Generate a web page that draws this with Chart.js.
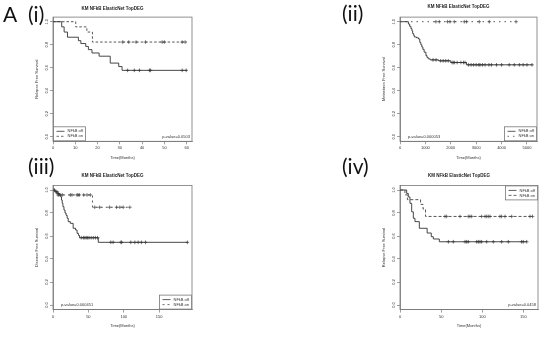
<!DOCTYPE html>
<html>
<head>
<meta charset="utf-8">
<title>KM NFkB ElasticNet TopDEG</title>
<script src="https://cdn.jsdelivr.net/npm/chart.js@4.4.1/dist/chart.umd.min.js"></script>
<style>
  body { margin: 0; background: #fff; }
  #fig { position: relative; width: 548px; height: 338px; overflow: hidden; }
  canvas { position: absolute; }
  .tag { position: absolute; z-index: 2; font-family: Lato, 'Open Sans', sans-serif; font-size: 21px; line-height: 20px; color: #111; }
</style>
</head>
<body>
<div id="fig">
  <canvas id="km1" width="274" height="169" style="left:0;top:0"></canvas>
  <canvas id="km2" width="274" height="169" style="left:274px;top:0"></canvas>
  <canvas id="km3" width="274" height="169" style="left:0;top:169px"></canvas>
  <canvas id="km4" width="274" height="169" style="left:274px;top:169px"></canvas>
  <div class="tag" style="left:3px;top:4px">A</div>
  <div class="tag" style="left:28px;top:4px">(i)</div>
  <div class="tag" style="left:342px;top:3px">(ii)</div>
  <div class="tag" style="left:28px;top:156px">(iii)</div>
  <div class="tag" style="left:342px;top:156px">(iv)</div>
</div>
<script>
// 生存曲線データ
const yTicks = [0, 0.2, 0.4, 0.6, 0.8, 1.0];

// (i) Relapse Free Survival
const p1XTicks = [0, 10, 20, 30, 40, 50, 60];
const p1OffTime = [0, 3.9, 5.0, 6.5, 11.4, 12.5, 14.7, 15.9, 17.5, 20.7, 25.7, 29.5, 31, 60];
const p1OffSurv = [1, 0.955, 0.91, 0.865, 0.835, 0.81, 0.785, 0.757, 0.728, 0.70, 0.64, 0.61, 0.577, 0.577];
const p1OffCens = [33.5, 36.5, 38.8, 43.3, 43.8, 58, 59.8];
const p1OnTime = [0, 10.2, 15.2, 17.7, 60];
const p1OnSurv = [1, 0.955, 0.91, 0.823, 0.823];
const p1OnCens = [31.3, 34, 37.3, 41.5, 49, 50, 58, 59.3];

// (ii) Metastasis Free Survival
const p2XTicks = [0, 1000, 2000, 3000, 4000, 5000];
const p2OffTime = [0, 330, 380, 430, 470, 500, 540, 565, 650, 730, 780, 820, 860, 900, 950, 1020, 1060, 1110, 1190, 1520, 2000, 2620, 5200];
const p2OffSurv = [1, 0.98, 0.96, 0.94, 0.92, 0.896, 0.88, 0.867, 0.86, 0.85, 0.82, 0.80, 0.78, 0.76, 0.735, 0.706, 0.69, 0.677, 0.668, 0.66, 0.645, 0.625, 0.625];
const p2OffCens = [1300, 1420, 1600, 1700, 1800, 1900, 2050, 2100, 2150, 2250, 2400, 2500, 2560, 2700, 2800, 2900, 3000, 3100, 3150, 3250, 3350, 3500, 3600, 3800, 4000, 4300, 4500, 4700, 4850, 5000, 5200];
const p2OnTime = [0, 4570];
const p2OnSurv = [1, 1];
const p2OnCens = [1413, 1547, 1874, 1968, 2138, 2532, 2622, 3122, 3516, 4570];

// (iii) Disease Free Survival
const p3XTicks = [0, 50, 100, 150];
const p3OffTime = [0, 3, 6, 9, 11, 12, 13, 14, 15.5, 17, 18.5, 20, 21.5, 24.5, 28.5, 32, 34, 36, 37.5, 64, 190];
const p3OffSurv = [1, 0.985, 0.97, 0.957, 0.94, 0.913, 0.885, 0.855, 0.826, 0.80, 0.78, 0.755, 0.725, 0.71, 0.667, 0.652, 0.623, 0.605, 0.585, 0.545, 0.545];
const p3OffCens = [2, 4, 5.5, 7.5, 40, 43, 45, 47, 49, 51, 54, 57, 60, 63, 81.7, 85, 96, 97, 110, 115.7, 120.4, 125, 130.8, 190];
const p3OnTime = [0, 5, 55.8, 108.6];
const p3OnSurv = [1, 0.957, 0.85, 0.85];
const p3OnCens = [7.1, 8.5, 10.9, 13.2, 24.6, 26.9, 34, 35.4, 37.2, 43.4, 48.1, 52.8, 59, 66, 80, 89.8, 94.5, 99.2, 108.6];

// (iv) Relapse Free Survival
const p4XTicks = [0, 50, 100, 150];
const p4OffTime = [0, 8.1, 10.1, 12.1, 14.2, 16.2, 18.2, 23.5, 33, 38, 40.5, 47.8, 154];
const p4OffSurv = [1, 0.97, 0.94, 0.884, 0.81, 0.754, 0.725, 0.667, 0.626, 0.594, 0.574, 0.55, 0.55];
const p4OffCens = [58.8, 64.8, 79, 81, 83, 93.2, 95.2, 97.2, 99.2, 105.3, 113.4, 123.5, 131.6, 147.8, 149.8, 154];
const p4OnTime = [0, 6, 9, 25, 28, 31, 161];
const p4OnSurv = [1, 0.958, 0.916, 0.875, 0.835, 0.77, 0.77];
const p4OnCens = [54.7, 56.7, 72.9, 83, 85, 87.1, 99.2, 103.3, 105.3, 107.3, 109.4, 121.5, 123.5, 127.6, 135.7, 158, 161];

const FONT = "'Liberation Sans', Arial, sans-serif";
const textColor = '#333';
const axisColor = '#777';
const offColor = '#333';
const onColor = '#444';

function levelAt(time, surv, t) {
  let s = surv[0];
  for (let i = 0; i < time.length; i++) {
    if (time[i] <= t) s = surv[i];
  }
  return s;
}

function curve(time, surv) {
  return time.map((t, i) => ({ x: t, y: surv[i] }));
}

function marks(time, surv, cens) {
  return cens.map(t => ({ x: t, y: levelAt(time, surv, t) }));
}

// 枠・凡例・p値の描画
const kmDecor = {
  id: 'kmDecor',
  afterDraw(chart, args, opts) {
    const { ctx, chartArea: a } = chart;
    ctx.save();
    ctx.strokeStyle = axisColor;
    ctx.lineWidth = 0.8;
    ctx.strokeRect(a.left, a.top, a.right - a.left, a.bottom - a.top);

    // 凡例
    const bw = 32, bh = 14;
    const bx = opts.legend.endsWith('left') ? a.left + 0.5 : a.right - bw - 0.5;
    const by = opts.legend.startsWith('top') ? a.top + 0.5 : a.bottom - bh - 0.5;
    ctx.fillStyle = '#fff';
    ctx.fillRect(bx, by, bw, bh);
    ctx.strokeRect(bx, by, bw, bh);
    ctx.font = '4px ' + FONT;
    ctx.textBaseline = 'middle';
    ctx.textAlign = 'left';
    const rows = [['NFkB off', offColor, []], ['NFkB on', onColor, opts.dash]];
    rows.forEach((r, i) => {
      const ry = by + 4.5 + i * 5;
      ctx.strokeStyle = r[1];
      ctx.lineWidth = 0.8;
      ctx.setLineDash(r[2]);
      ctx.beginPath();
      ctx.moveTo(bx + 3, ry);
      ctx.lineTo(bx + 11, ry);
      ctx.stroke();
      ctx.setLineDash([]);
      ctx.fillStyle = textColor;
      ctx.fillText(r[0], bx + 14, ry);
    });

    // p値
    ctx.fillStyle = textColor;
    ctx.textAlign = opts.pSide === 'left' ? 'left' : 'right';
    const px = opts.pSide === 'left' ? a.left + 8 : a.right - 2;
    ctx.fillText(opts.pText, px, a.bottom - 4.6);
    ctx.restore();
  }
};

function makeKM(id, cfg) {
  const W = 274, H = 169;
  const xAxisH = 18.9, yAxisW = 20;
  const titleLH = 5.4;
  return new Chart(document.getElementById(id), {
    type: 'line',
    data: {
      datasets: [{
        data: curve(cfg.offTime, cfg.offSurv),
        stepped: true,
        borderColor: offColor,
        borderWidth: 0.9,
        pointRadius: 0,
        fill: false
      }, {
        data: curve(cfg.onTime, cfg.onSurv),
        stepped: true,
        borderColor: onColor,
        borderWidth: 0.9,
        borderDash: cfg.dash,
        pointRadius: 0,
        fill: false
      }, {
        data: marks(cfg.offTime, cfg.offSurv, cfg.offCens),
        showLine: false,
        pointStyle: 'cross',
        pointRadius: 1.8,
        borderColor: offColor,
        borderWidth: 0.7
      }, {
        data: marks(cfg.onTime, cfg.onSurv, cfg.onCens),
        showLine: false,
        pointStyle: 'cross',
        pointRadius: 1.8,
        borderColor: onColor,
        borderWidth: 0.7
      }]
    },
    options: {
      responsive: false,
      animation: false,
      devicePixelRatio: 1,
      layout: {
        padding: {
          left: cfg.area.l - yAxisW,
          right: W - cfg.area.r,
          top: 0,
          bottom: H - cfg.area.b - xAxisH
        }
      },
      plugins: {
        legend: { display: false },
        tooltip: { enabled: false },
        title: {
          display: true,
          text: 'KM NFkB ElasticNet TopDEG',
          color: '#222',
          font: { family: FONT, size: 4.5, weight: 'bold' },
          padding: { top: cfg.titleTop, bottom: cfg.area.t - cfg.titleTop - titleLH }
        },
        kmDecor: { legend: cfg.legend, pText: cfg.pText, pSide: cfg.pSide, dash: cfg.dash }
      },
      scales: {
        x: {
          type: 'linear',
          min: 0,
          max: cfg.xMax,
          afterBuildTicks: s => { s.ticks = cfg.xTicks.map(v => ({ value: v })); },
          afterFit: s => { s.height = xAxisH; },
          grid: { display: true, drawOnChartArea: false, drawTicks: true, tickLength: 3, color: axisColor, lineWidth: 0.7 },
          border: { display: true, color: axisColor, width: 0.8 },
          ticks: { font: { family: FONT, size: 4 }, color: textColor, padding: 1.5, maxRotation: 0, autoSkip: false, callback: v => String(v) },
          title: { display: true, text: 'Time(Months)', color: textColor, font: { family: FONT, size: 4 }, padding: { top: 0, bottom: 0 } }
        },
        y: {
          type: 'linear',
          min: -0.04,
          max: 1.04,
          afterBuildTicks: s => { s.ticks = yTicks.map(v => ({ value: v })); },
          afterFit: s => { s.width = yAxisW; },
          grid: { display: true, drawOnChartArea: false, drawTicks: true, tickLength: 3, color: axisColor, lineWidth: 0.7 },
          border: { display: true, color: axisColor, width: 0.8 },
          ticks: {
            font: { family: FONT, size: 4 },
            color: textColor,
            minRotation: 90,
            maxRotation: 90,
            crossAlign: 'center',
            padding: 0.5,
            autoSkip: false,
            callback: v => v.toFixed(1)
          },
          title: { display: true, text: cfg.yTitle, color: textColor, font: { family: FONT, size: 4 }, padding: { top: 1.6, bottom: 0 } }
        }
      }
    },
    plugins: [kmDecor]
  });
}

makeKM('km1', {
  area: { l: 53, r: 192, t: 17.1, b: 141.3 }, titleTop: 6.3,
  xMax: 62.4, xTicks: p1XTicks, yTitle: 'Relapse Free Survival',
  offTime: p1OffTime, offSurv: p1OffSurv, offCens: p1OffCens,
  onTime: p1OnTime, onSurv: p1OnSurv, onCens: p1OnCens,
  dash: [2.5, 2], legend: 'bottomleft', pText: 'p-value=0.0503', pSide: 'right'
});

makeKM('km2', {
  area: { l: 126, r: 263, t: 17.1, b: 141.3 }, titleTop: 4.5,
  xMax: 5394, xTicks: p2XTicks, yTitle: 'Metastasis Free Survival',
  offTime: p2OffTime, offSurv: p2OffSurv, offCens: p2OffCens,
  onTime: p2OnTime, onSurv: p2OnSurv, onCens: p2OnCens,
  dash: [1.5, 4], legend: 'bottomright', pText: 'p-value=0.000053', pSide: 'left'
});

makeKM('km3', {
  area: { l: 53, r: 192, t: 16.4, b: 140.6 }, titleTop: 4.3,
  xMax: 196.5, xTicks: p3XTicks, yTitle: 'Disease Free Survival',
  offTime: p3OffTime, offSurv: p3OffSurv, offCens: p3OffCens,
  onTime: p3OnTime, onSurv: p3OnSurv, onCens: p3OnCens,
  dash: [2, 3], legend: 'bottomright', pText: 'p-value=0.000451', pSide: 'left'
});

makeKM('km4', {
  area: { l: 126, r: 264, t: 16.4, b: 140.6 }, titleTop: 4.3,
  xMax: 167.7, xTicks: p4XTicks, yTitle: 'Relapse Free Survival',
  offTime: p4OffTime, offSurv: p4OffSurv, offCens: p4OffCens,
  onTime: p4OnTime, onSurv: p4OnSurv, onCens: p4OnCens,
  dash: [3, 2], legend: 'topright', pText: 'p-value=0.0458', pSide: 'right'
});
</script>
</body>
</html>
